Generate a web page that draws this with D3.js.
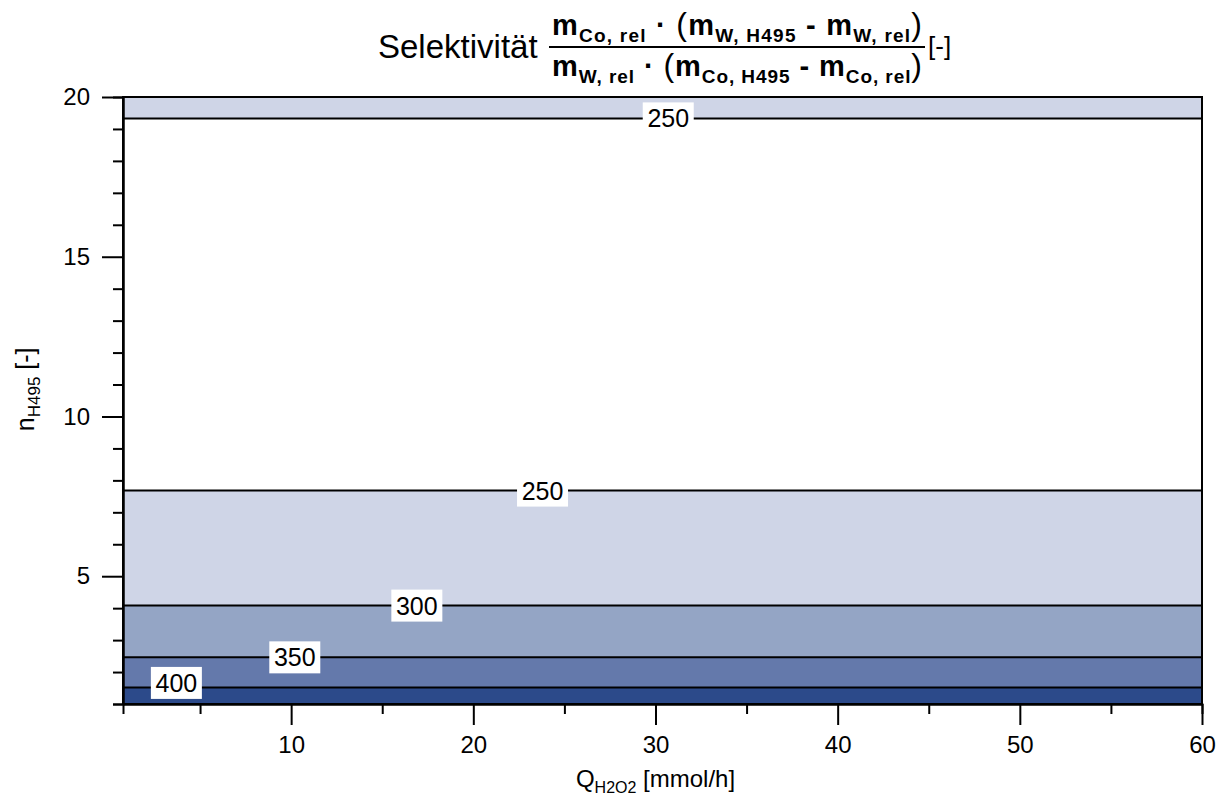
<!DOCTYPE html>
<html>
<head>
<meta charset="utf-8">
<script src="https://cdn.jsdelivr.net/npm/d3@7"></script>
<style>
  body { margin: 0; background: #fff; }
  svg { display: block; font-family: "Liberation Sans", Arial, sans-serif; }
</style>
</head>
<body>
<svg id="chart" width="1225" height="800"></svg>
<script>
// ---- data ----
const xDomain = [0.77, 60];
const yDomain = [1, 20];
const xMajorTicks = [10, 20, 30, 40, 50, 60];
const xMinorTicks = [5, 15, 25, 35, 45, 55];
const yMajorTicks = [5, 10, 15, 20];
const yMinorTicks = [1, 2, 3, 4, 6, 7, 8, 9, 11, 12, 13, 14, 16, 17, 18, 19];

// contour lines (horizontal: selectivity depends only on n_H495)
const contourLevels = [250, 250, 300, 350, 400];
const contourY = [19.33, 7.68, 4.08, 2.46, 1.52];
const labelX = [30.7, 23.8, 16.9, 10.2, 3.7];
const labelY = [19.33, 7.68, 4.08, 2.46, 1.66];

// filled bands between contour lines
const bandLow = [1, 1.52, 2.46, 4.08, 7.68, 19.33];
const bandHigh = [1.52, 2.46, 4.08, 7.68, 19.33, 20];
const bandClass = [">400", "350-400", "300-350", "250-300", "<250", "250-300"];
const classNames = [">400", "350-400", "300-350", "250-300", "<250"];
const classColors = ["#2C4A8A", "#6479AB", "#94A5C5", "#CFD5E7", "#FFFFFF"];

// ---- layout ----
const svg = d3.select("#chart");
const L = 123, R = 1202, T = 97, B = 704;
const x = d3.scaleLinear().domain(xDomain).range([L, R]);
const y = d3.scaleLinear().domain(yDomain).range([B, T]);
const color = d3.scaleOrdinal().domain(classNames).range(classColors);

// bands
svg.append("g").selectAll("rect").data(bandLow).join("rect")
  .attr("x", x(xDomain[0]))
  .attr("width", x(xDomain[1]) - x(xDomain[0]))
  .attr("y", (d, i) => y(bandHigh[i]))
  .attr("height", (d, i) => y(bandLow[i]) - y(bandHigh[i]))
  .attr("fill", (d, i) => color(bandClass[i]));

// contour lines
svg.append("g").selectAll("line").data(contourY).join("line")
  .attr("x1", x(xDomain[0])).attr("x2", x(xDomain[1]))
  .attr("y1", d => y(d)).attr("y2", d => y(d))
  .attr("stroke", "#000").attr("stroke-width", 2);

// contour labels
const lab = svg.append("g").attr("font-size", 25);
contourLevels.forEach((v, i) => {
  const cx = x(labelX[i]), cy = y(labelY[i]);
  const w = 51, h = 32;
  lab.append("rect").attr("x", cx - w / 2).attr("y", cy - h / 2)
    .attr("width", w).attr("height", h).attr("fill", "#fff");
  lab.append("text").attr("x", cx).attr("y", cy + 9)
    .attr("text-anchor", "middle").attr("fill", "#000").text(v);
});

// frame
svg.append("rect").attr("x", L).attr("y", T).attr("width", R - L).attr("height", B - T)
  .attr("fill", "none").attr("stroke", "#000").attr("stroke-width", 2);

// axes
function styleAxis(g) {
  g.selectAll(".domain").attr("stroke-width", 2);
  g.selectAll(".tick line").attr("stroke-width", 2);
  g.selectAll(".tick text").attr("font-size", 24).attr("font-family", "Liberation Sans, Arial, sans-serif").attr("fill", "#000");
}
const xAxisMinor = svg.append("g").attr("transform", `translate(0,${B})`)
  .call(d3.axisBottom(x).tickValues(xMinorTicks).tickSize(10).tickFormat(""));
styleAxis(xAxisMinor);
const xAxis = svg.append("g").attr("transform", `translate(0,${B})`)
  .call(d3.axisBottom(x).tickValues(xMajorTicks).tickSize(21).tickPadding(11).tickSizeOuter(0));
styleAxis(xAxis);
const yAxisMinor = svg.append("g").attr("transform", `translate(${L},0)`)
  .call(d3.axisLeft(y).tickValues(yMinorTicks).tickSize(10).tickFormat(""));
styleAxis(yAxisMinor);
const yAxis = svg.append("g").attr("transform", `translate(${L},0)`)
  .call(d3.axisLeft(y).tickValues(yMajorTicks).tickSize(21).tickPadding(12).tickSizeOuter(0));
styleAxis(yAxis);

// axis titles
const xt = svg.append("text").attr("x", x(30)).attr("y", 787)
  .attr("text-anchor", "middle").attr("font-size", 24).attr("fill", "#000");
xt.append("tspan").text("Q");
xt.append("tspan").attr("font-size", 16).attr("dy", 6).text("H2O2");
xt.append("tspan").attr("dy", -6).text(" [mmol/h]");

const yt = svg.append("text").attr("transform", `translate(34,${y(10.85)}) rotate(-90)`)
  .attr("text-anchor", "middle").attr("font-size", 25).attr("fill", "#000");
yt.append("tspan").text("n");
yt.append("tspan").attr("font-size", 17).attr("dy", 6).text("H495");
yt.append("tspan").attr("dy", -6).text(" [-]");

// title
svg.append("text").attr("x", 378).attr("y", 58).attr("font-size", 33).attr("fill", "#000")
  .text("Selektivität");

function formula(cx, by, segs, width) {
  const t = svg.append("text").attr("x", cx).attr("y", by).attr("text-anchor", "middle")
    .attr("fill", "#000").attr("textLength", width).attr("lengthAdjust", "spacing");
  let shift = 0;
  segs.forEach(s => {
    const dy = (s.sub ? 7 : 0) - shift;
    shift = s.sub ? 7 : 0;
    t.append("tspan").attr("dy", dy)
      .attr("font-size", s.size).attr("font-weight", s.bold ? "bold" : "normal")
      .text(s.t);
  });
}
const num = [
  {t: "m", size: 29, bold: true}, {t: "Co, rel", size: 19, bold: true, sub: true},
  {t: " · ", size: 29, bold: true}, {t: "(", size: 32},
  {t: "m", size: 29, bold: true}, {t: "W, H495", size: 19, bold: true, sub: true},
  {t: " - ", size: 29, bold: true},
  {t: "m", size: 29, bold: true}, {t: "W, rel", size: 19, bold: true, sub: true},
  {t: ")", size: 32}
];
const den = [
  {t: "m", size: 29, bold: true}, {t: "W, rel", size: 19, bold: true, sub: true},
  {t: " · ", size: 29, bold: true}, {t: "(", size: 32},
  {t: "m", size: 29, bold: true}, {t: "Co, H495", size: 19, bold: true, sub: true},
  {t: " - ", size: 29, bold: true},
  {t: "m", size: 29, bold: true}, {t: "Co, rel", size: 19, bold: true, sub: true},
  {t: ")", size: 32}
];
formula(737, 35, num, 370);
svg.append("line").attr("x1", 549).attr("x2", 925).attr("y1", 47).attr("y2", 47)
  .attr("stroke", "#000").attr("stroke-width", 2);
formula(737, 76, den, 370);
svg.append("text").attr("x", 928).attr("y", 55).attr("font-size", 26).attr("fill", "#000").text("[-]");
</script>
</body>
</html>
